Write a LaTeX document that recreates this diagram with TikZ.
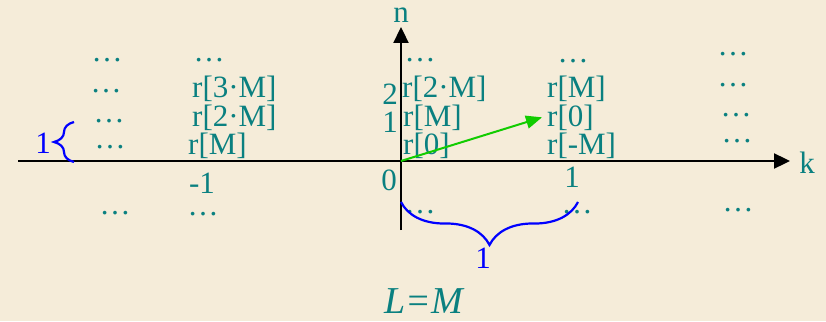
\documentclass[tikz,border=0pt]{standalone}
\usepackage{fontspec}
\setmainfont{Liberation Serif}
\usetikzlibrary{arrows.meta,decorations.pathreplacing}
\definecolor{Parchment}{HTML}{F5ECD9}
\definecolor{TealText}{HTML}{0A8080}
\definecolor{VecGreen}{HTML}{11CC00}
\definecolor{BraceBlue}{HTML}{0000FF}

\begin{document}
\begin{tikzpicture}[x=1pt,y=-1pt,
    txt/.style={inner sep=0pt,color=TealText,font=\fontsize{31}{32}\selectfont},
    bluetxt/.style={txt,color=BraceBlue},
    axis/.style={line width=2.3pt,-{Triangle[length=16pt,width=15pt]}},
    bracebl/.style={draw=BraceBlue,line width=2.2pt,decorate,decoration={brace,amplitude=#1}}]
        \fill[Parchment] (0,0) rectangle (826,321);
        \useasboundingbox (0,0) rectangle (826,321);
        % axes
        \coordinate (o) at (401,161);
        \coordinate (kstart) at (18,161);
        \coordinate (kend) at (790,161);
        \coordinate (nstart) at (401,230);
        \coordinate (nend) at (401,27);
        \draw[axis] (kstart) -- (kend);
        \draw[axis] (nstart) -- (nend);
        \node[txt,anchor=base] (klab) at (807,173) {k};
        \node[txt,anchor=base] (nlab) at (401,23) {n};
        % columns of dots
        \foreach \x/\y [count=\i] in {107/62,106/92,109/122,110/148,115/214,209/62,203/215,420/62,420/213,573/63,577/213,733/56,733/86,736/116,737/142,738/211} {
          \node[txt,anchor=base] (dots\i) at (\x,\y) {…};
        }
        % samples
        \node[txt,anchor=base west] (m3a) at (192,97.5) {r[3·M]};
        \node[txt,anchor=base west] (m2a) at (192,126.5) {r[2·M]};
        \node[txt,anchor=base west] (m1a) at (188,154.5) {r[M]};
        \node[txt,anchor=base west] (m2b) at (402,97.5) {r[2·M]};
        \node[txt,anchor=base west] (m1b) at (403,126) {r[M]};
        \node[txt,anchor=base west] (m0b) at (403,154.5) {r[0]};
        \node[txt,anchor=base west] (m1c) at (547,97.5) {r[M]};
        \node[txt,anchor=base west] (m0c) at (547,126) {r[0]};
        \node[txt,anchor=base west] (mmc) at (547,154.5) {r[-M]};
        % tick labels
        \node[txt,anchor=base east] (ntwo) at (398,104) {2};
        \node[txt,anchor=base east] (none) at (398,132) {1};
        \node[txt,anchor=base] (zero) at (389,190) {0};
        \node[txt,anchor=base] (kone) at (572,187) {1};
        \node[txt,anchor=base] (kmone) at (202,193) {-1};
        % vector
        \draw[VecGreen,line width=2pt,-{Triangle[length=16pt,width=13pt]}] (o) -- ([xshift=-5pt]m0c.west);
        % braces
        \coordinate (bl1) at (74,162);
        \coordinate (bl2) at (74,122);
        \draw[bracebl=20pt] (bl1) -- (bl2);
        \node[bluetxt,anchor=base] (lone) at (43,153) {1};
        \coordinate (bb1) at (578,202);
        \coordinate (bb2) at (401,202);
        \draw[bracebl=43pt] (bb1) -- (bb2);
        \node[bluetxt,anchor=base] (bone) at (483,268) {1};
        \node[txt,anchor=base,font=\fontsize{38}{40}\selectfont\itshape] (lm) at (424,313) {L=M};
      \end{tikzpicture}
\end{document}
